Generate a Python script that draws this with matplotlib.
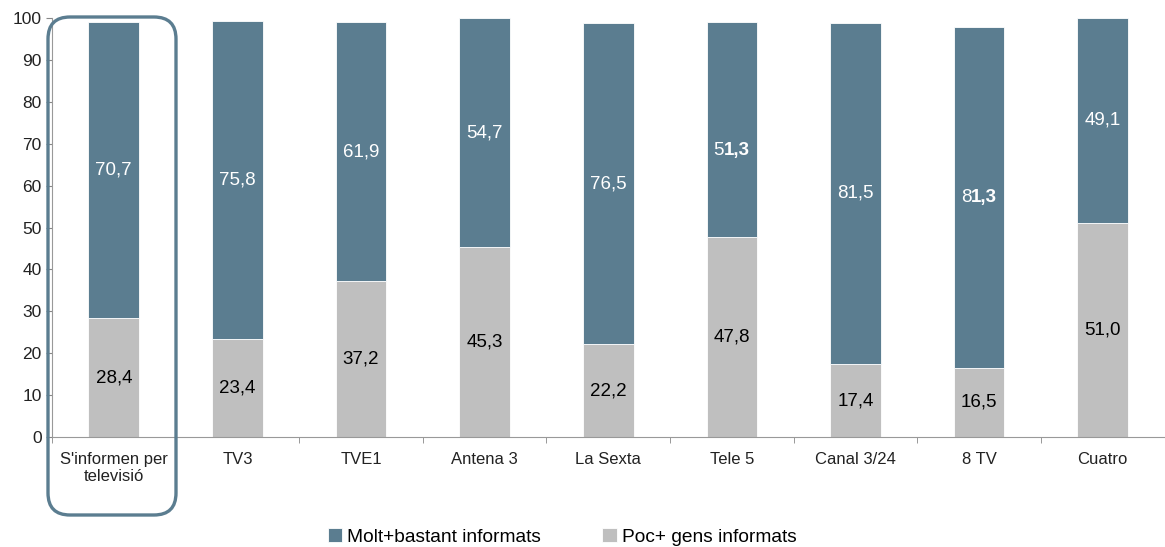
import numpy as np
import matplotlib
matplotlib.use("Agg")
import matplotlib.pyplot as plt
from matplotlib.patches import FancyBboxPatch

plt.rcParams["font.family"] = ["Liberation Sans", "DejaVu Sans"]

categories = ["S'informen per\ntelevisió", "TV3", "TVE1", "Antena 3", "La Sexta",
              "Tele 5", "Canal 3/24", "8 TV", "Cuatro"]
poc = [28.4, 23.4, 37.2, 45.3, 22.2, 47.8, 17.4, 16.5, 51.0]
molt = [70.7, 75.8, 61.9, 54.7, 76.5, 51.3, 81.5, 81.3, 49.1]
poc_labels = ["28,4", "23,4", "37,2", "45,3", "22,2", "47,8", "17,4", "16,5", "51,0"]
molt_labels = ["70,7", "75,8", "61,9", "54,7", "76,5", "51,3", "81,5", "81,3", "49,1"]
# labels where the tail is printed in bold in the source
bold_split = {5: ("5", "1,3"), 7: ("8", "1,3")}
# the Tele 5 label sits a bit below the middle of its segment
label_shift = {5: -5.0}

dark = "#5B7D90"
grey = "#BFBFBF"
fs = 13.5

fig = plt.figure(figsize=(11.65, 5.47), dpi=100)
ax = fig.add_axes([0.0446, 0.201, 0.955, 0.766])

x = np.arange(len(categories))
w = 0.41
ax.bar(x, poc, w, color=grey, edgecolor="white", linewidth=0.6,
       label="Poc+ gens informats", zorder=2)
ax.bar(x, molt, w, bottom=poc, color=dark, edgecolor="white", linewidth=0.6,
       label="Molt+bastant informats", zorder=2)

ax.set_xlim(-0.5, len(categories) - 0.5)
ax.set_ylim(0, 100)
ax.set_yticks(range(0, 101, 10))
ax.set_xticks(x)
ax.set_xticklabels(categories, fontsize=12, color="#222222", linespacing=1.15)
ax.set_xticks(np.arange(-0.5, len(categories), 1.0), minor=True)
ax.tick_params(axis="x", which="major", length=0, pad=11)
ax.tick_params(axis="x", which="minor", length=4, color="#888888")
ax.tick_params(axis="y", length=4, color="#888888", labelsize=12.5, labelcolor="#222222")
for s in ["top", "right"]:
    ax.spines[s].set_visible(False)
for s in ["left", "bottom"]:
    ax.spines[s].set_color("#999999")

fig.canvas.draw()
rend = fig.canvas.get_renderer()

for i in x:
    ax.text(i, poc[i] / 2, poc_labels[i], ha="center", va="center",
            fontsize=fs, color="black", zorder=3)
    yc = poc[i] + molt[i] / 2 + label_shift.get(i, 0.0)
    if i in bold_split:
        a, b = bold_split[i]
        t1 = ax.text(0, 0, a, fontsize=fs)
        t2 = ax.text(0, 0, b, fontsize=fs, fontweight="bold")
        w1 = t1.get_window_extent(rend).width
        w2 = t2.get_window_extent(rend).width
        t1.remove()
        t2.remove()
        px = ax.transData.transform((i, yc))
        left = px[0] - (w1 + w2) / 2
        inv = ax.transData.inverted()
        x1 = inv.transform((left, px[1]))[0]
        x2 = inv.transform((left + w1, px[1]))[0]
        ax.text(x1, yc, a, ha="left", va="center", fontsize=fs, color="white", zorder=3)
        ax.text(x2, yc, b, ha="left", va="center", fontsize=fs, color="white",
                fontweight="bold", zorder=3)
    else:
        ax.text(i, yc, molt_labels[i], ha="center", va="center",
                fontsize=fs, color="white", zorder=3)

handles, labels = ax.get_legend_handles_labels()
fig.legend(handles[::-1], labels[::-1], loc="lower center", ncol=2, frameon=False,
           fontsize=13.8, bbox_to_anchor=(0.4825, -0.03), handlelength=0.75,
           handleheight=0.75, handletextpad=0.25, columnspacing=3.2)

box = FancyBboxPatch((0.48, 0.32), 1.28, 4.98,
                     boxstyle="round,pad=0,rounding_size=0.22",
                     transform=fig.dpi_scale_trans, fill=False,
                     edgecolor=dark, linewidth=2.4, clip_on=False)
fig.patches.append(box)

fig.savefig("out.png", dpi=100)
